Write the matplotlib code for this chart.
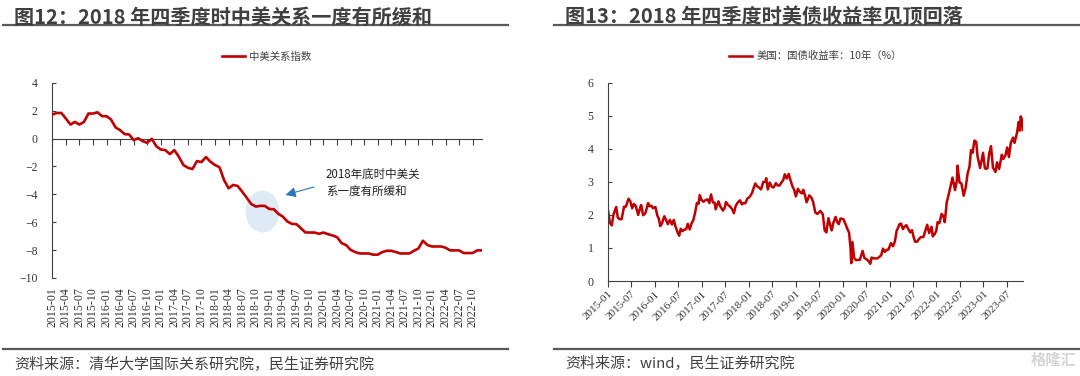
import matplotlib
matplotlib.use("Agg")
import matplotlib.pyplot as plt
import matplotlib.dates as mdates
from matplotlib.patches import Ellipse
from matplotlib.lines import Line2D
import pandas as pd
import numpy as np

# ---------------- data ----------------
# 中美关系指数 (monthly, 2015-01 .. 2022-12)
months = [d.strftime("%Y-%m") for d in pd.date_range("2015-01-01", "2022-12-01", freq="MS")]
relation_index = [
    1.71, 1.83, 1.83, 1.43, 1.00, 1.19, 1.00, 1.19, 1.79, 1.79, 1.88, 1.60,
    1.60, 1.36, 0.79, 0.60, 0.31, 0.29, -0.12, 0.02, -0.19, -0.31, -0.02, -0.55,
    -0.79, -0.83, -1.12, -0.83, -1.31, -1.90, -2.10, -2.19, -1.62, -1.69, -1.33, -1.67,
    -1.90, -2.07, -2.98, -3.57, -3.33, -3.40, -3.81, -4.24, -4.69, -4.88, -4.83, -4.83,
    -5.05, -5.07, -5.40, -5.60, -5.95, -6.12, -6.14, -6.43, -6.74, -6.74, -6.74, -6.83,
    -6.74, -6.86, -6.95, -7.07, -7.50, -7.64, -7.98, -8.14, -8.24, -8.24, -8.24, -8.33,
    -8.33, -8.14, -8.05, -8.05, -8.14, -8.24, -8.24, -8.24, -8.05, -7.88, -7.33, -7.64,
    -7.74, -7.74, -7.74, -7.83, -8.02, -8.02, -8.02, -8.21, -8.21, -8.21, -8.02, -8.02,
]
left_tick_labels = months[::3]

# 美国:国债收益率:10年 (%)
ust_dates = [
    "2015-01-02", "2015-01-15", "2015-01-30", "2015-02-13", "2015-03-06", "2015-03-18", "2015-04-01", "2015-04-17",
    "2015-05-06", "2015-05-20", "2015-06-10", "2015-06-24", "2015-07-08", "2015-07-22", "2015-08-05", "2015-08-24",
    "2015-09-09", "2015-09-16", "2015-10-02", "2015-10-20", "2015-11-09", "2015-11-20", "2015-12-04", "2015-12-18",
    "2016-01-05", "2016-01-20", "2016-02-02", "2016-02-11", "2016-02-25", "2016-03-14", "2016-03-30", "2016-04-11",
    "2016-04-27", "2016-05-13", "2016-05-27", "2016-06-10", "2016-06-27", "2016-07-08", "2016-07-20", "2016-08-03",
    "2016-08-16", "2016-09-01", "2016-09-13", "2016-09-28", "2016-10-13", "2016-10-26", "2016-11-09", "2016-11-23",
    "2016-12-07", "2016-12-15", "2016-12-30",
    "2017-01-13", "2017-01-31", "2017-02-14", "2017-02-28", "2017-03-13", "2017-03-27", "2017-04-10", "2017-04-18",
    "2017-05-10", "2017-05-24", "2017-06-14", "2017-06-28", "2017-07-07", "2017-07-26", "2017-08-09", "2017-08-25",
    "2017-09-07", "2017-09-21", "2017-10-06", "2017-10-25", "2017-11-08", "2017-11-21", "2017-12-05", "2017-12-20",
    "2018-01-09", "2018-01-26", "2018-02-09", "2018-02-21", "2018-03-08", "2018-03-22", "2018-04-06", "2018-04-24",
    "2018-05-09", "2018-05-17", "2018-05-29", "2018-06-13", "2018-06-29", "2018-07-13", "2018-07-31", "2018-08-14",
    "2018-08-29", "2018-09-14", "2018-09-27", "2018-10-08", "2018-10-24", "2018-11-08", "2018-11-21", "2018-12-06",
    "2018-12-19",
    "2019-01-03", "2019-01-18", "2019-02-01", "2019-02-19", "2019-03-01", "2019-03-15", "2019-03-27", "2019-04-17",
    "2019-05-03", "2019-05-17", "2019-06-03", "2019-06-20", "2019-07-12", "2019-07-31", "2019-08-15", "2019-08-28",
    "2019-09-13", "2019-09-27", "2019-10-08", "2019-10-22", "2019-11-08", "2019-11-22", "2019-12-03", "2019-12-16",
    "2020-01-08", "2020-01-23", "2020-02-07", "2020-02-21", "2020-03-03", "2020-03-09", "2020-03-18", "2020-03-31",
    "2020-04-15", "2020-04-30", "2020-05-15", "2020-06-05", "2020-06-19", "2020-07-08", "2020-07-24", "2020-08-04",
    "2020-08-14", "2020-08-26", "2020-09-15", "2020-09-30", "2020-10-14", "2020-10-28", "2020-11-11", "2020-11-25",
    "2020-12-09", "2020-12-23",
    "2021-01-12", "2021-01-28", "2021-02-12", "2021-02-25", "2021-03-04", "2021-03-18", "2021-03-31", "2021-04-15",
    "2021-04-29", "2021-05-12", "2021-05-26", "2021-06-11", "2021-06-25", "2021-07-08", "2021-07-19", "2021-08-04",
    "2021-08-18", "2021-09-03", "2021-09-21", "2021-10-04", "2021-10-21", "2021-11-05", "2021-11-24", "2021-12-03",
    "2021-12-17", "2021-12-31",
    "2022-01-10", "2022-01-24", "2022-02-10", "2022-02-24", "2022-03-07", "2022-03-22", "2022-04-06", "2022-04-20",
    "2022-05-06", "2022-05-26", "2022-06-09", "2022-06-14", "2022-06-30", "2022-07-14", "2022-08-01", "2022-08-16",
    "2022-09-01", "2022-09-15", "2022-09-27", "2022-10-10", "2022-10-24", "2022-11-07", "2022-11-17", "2022-12-01",
    "2022-12-07", "2022-12-30",
    "2023-01-12", "2023-01-19", "2023-02-02", "2023-02-16", "2023-03-02", "2023-03-17", "2023-04-06", "2023-04-18",
    "2023-05-04", "2023-05-25", "2023-06-05", "2023-06-22", "2023-07-06", "2023-07-19", "2023-08-03", "2023-08-21",
    "2023-09-01", "2023-09-21", "2023-10-03", "2023-10-11", "2023-10-19", "2023-10-30", "2023-11-03",
]
ust_yield = [
    2.12, 1.77, 1.68, 2.02, 2.24, 1.92, 1.87, 1.87, 2.25, 2.25, 2.49, 2.41, 2.20, 2.33, 2.27, 2.00,
    2.22, 2.30, 1.99, 2.06, 2.36, 2.26, 2.28, 2.20,
    2.24, 1.98, 1.87, 1.66, 1.74, 1.96, 1.83, 1.72, 1.85, 1.71, 1.85, 1.64, 1.46, 1.37, 1.58, 1.51,
    1.55, 1.57, 1.73, 1.56, 1.75, 1.84, 2.07, 2.36, 2.34, 2.60, 2.45,
    2.40, 2.45, 2.47, 2.36, 2.62, 2.38, 2.37, 2.17, 2.41, 2.26, 2.13, 2.22, 2.39, 2.29, 2.25, 2.17,
    2.05, 2.27, 2.37, 2.44, 2.32, 2.36, 2.35, 2.49,
    2.55, 2.66, 2.83, 2.95, 2.86, 2.83, 2.77, 3.00, 3.00, 3.11, 2.77, 2.98, 2.85, 2.83, 2.96, 2.89,
    2.89, 2.99, 3.06, 3.23, 3.10, 3.24, 3.06, 2.87, 2.77,
    2.56, 2.79, 2.70, 2.65, 2.76, 2.59, 2.38, 2.59, 2.53, 2.39, 2.07, 2.03, 2.12, 2.02, 1.53, 1.47,
    1.90, 1.69, 1.53, 1.77, 1.94, 1.77, 1.72, 1.89,
    1.87, 1.73, 1.58, 1.46, 1.00, 0.54, 1.18, 0.70, 0.63, 0.64, 0.64, 0.91, 0.70, 0.65, 0.59, 0.52,
    0.71, 0.69, 0.68, 0.69, 0.73, 0.78, 0.98, 0.88, 0.94, 0.95,
    1.15, 1.05, 1.20, 1.52, 1.57, 1.71, 1.74, 1.57, 1.65, 1.69, 1.58, 1.47, 1.54, 1.32, 1.19, 1.19,
    1.27, 1.33, 1.33, 1.49, 1.70, 1.45, 1.64, 1.35, 1.41, 1.52,
    1.78, 1.75, 2.03, 1.97, 1.78, 2.38, 2.61, 2.85, 3.13, 2.75, 3.04, 3.49, 2.98, 2.96, 2.58, 2.81,
    3.26, 3.45, 3.96, 3.88, 4.25, 4.21, 3.77, 3.53, 3.42, 3.88,
    3.44, 3.39, 3.41, 3.86, 4.08, 3.43, 3.30, 3.59, 3.39, 3.82, 3.69, 3.80, 4.04, 3.75, 4.18, 4.34,
    4.18, 4.49, 4.81, 4.55, 4.98, 4.88, 4.57,
]

# ---------------- style ----------------
RED = "#c00000"
DARK = "#404040"
CJK = ["Noto Sans CJK SC", "DejaVu Sans"]
SERIF = ["Liberation Serif", "DejaVu Serif"]

fig = plt.figure(figsize=(10.8, 3.76), dpi=100)

def fx(px):
    return px / 1080.0

def fy(py):
    return 1 - py / 376.0

# titles, rules, sources
fig.text(fx(14), fy(17), "图12：2018 年四季度时中美关系一度有所缓和", family=CJK,
         fontsize=14.5, fontweight="bold", color=DARK, va="center", ha="left")
fig.text(fx(565), fy(17), "图13：2018 年四季度时美债收益率见顶回落", family=CJK,
         fontsize=14.5, fontweight="bold", color=DARK, va="center", ha="left")
for x0, x1, yy in [(3, 508, 25), (554, 1080, 25), (3, 508, 349), (554, 1080, 349)]:
    fig.add_artist(Line2D([fx(x0), fx(x1)], [fy(yy), fy(yy)], color="#595959", lw=1.6,
                          transform=fig.transFigure))
fig.text(fx(14), fy(364), "资料来源：清华大学国际关系研究院，民生证券研究院", family=CJK,
         fontsize=10.8, color=DARK, va="center", ha="left")
fig.text(fx(565), fy(364), "资料来源：wind，民生证券研究院", family=CJK,
         fontsize=10.8, color=DARK, va="center", ha="left")
fig.text(fx(1076), fy(360), "格隆汇", family=CJK, fontsize=11, color="#d5d5d5",
         va="center", ha="right", fontweight="bold")

# ---------------- left chart ----------------
axL = fig.add_axes([fx(52.3), fy(278), fx(481.7 - 52.3), (278 - 82.7) / 376.0])
x_idx = np.arange(len(months))
axL.plot(x_idx, relation_index, color=RED, lw=1.9, label="中美关系指数", zorder=3)
axL.set_xlim(0, len(months) - 1)
axL.set_ylim(-10, 4)
axL.set_yticks(range(-10, 5, 2))
for s in ["top", "right"]:
    axL.spines[s].set_visible(False)
axL.spines["bottom"].set_position(("data", 0))
axL.spines["left"].set_color("#404040")
axL.spines["bottom"].set_color("#404040")
axL.set_xticks(x_idx[::3])
axL.tick_params(axis="x", direction="out", length=4, labelbottom=False, color="#404040")
axL.tick_params(axis="y", direction="in", length=3, labelsize=8.5, color="#404040", pad=10.5)
for lab in axL.get_yticklabels():
    lab.set_family(SERIF)
    lab.set_color("#333333")
sec = axL.secondary_xaxis("bottom")
sec.spines["bottom"].set_visible(False)
sec.set_xticks(x_idx[::3], left_tick_labels, rotation=90)
sec.tick_params(length=0, pad=6.5, labelsize=8.6)
for lab in sec.get_xticklabels():
    lab.set_family(SERIF)
    lab.set_color("#333333")

axL.add_patch(Ellipse((46.5, -5.24), 7.5, 3.0, facecolor="#deeaf6", edgecolor="none", zorder=1))
axL.annotate("", xy=(51, -4.1), xytext=(58.5, -3.42),
             arrowprops=dict(arrowstyle="-|>,head_length=0.6,head_width=0.3", color="#2e75b6", lw=0.8))
axL.text(60.5, -3.2, "2018年底时中美关\n系一度有所缓和", family=CJK, fontsize=8.3,
         color="#222222", va="center", ha="left", linespacing=1.45)
legL = axL.legend(loc="lower center", bbox_to_anchor=(0.5, 1.06), frameon=False,
                  prop={"family": CJK, "size": 7.5}, handlelength=2.2, handletextpad=0.4)
for t in legL.get_texts():
    t.set_color(DARK)

# ---------------- right chart ----------------
axR = fig.add_axes([fx(608), fy(281), fx(1023 - 608), (281 - 82.7) / 376.0])
dts = pd.to_datetime(ust_dates)
axR.plot(dts, ust_yield, color=RED, lw=1.8, label="美国：国债收益率：10年（%）")
axR.set_xlim(pd.Timestamp("2015-01-01"), pd.Timestamp("2023-11-06"))
axR.set_ylim(0, 6)
axR.set_yticks(range(0, 7))
for s in ["top", "right"]:
    axR.spines[s].set_visible(False)
axR.spines["left"].set_color("#404040")
axR.spines["bottom"].set_color("#404040")
axR.xaxis.set_major_locator(mdates.MonthLocator(bymonth=[1, 7]))
axR.xaxis.set_major_formatter(mdates.DateFormatter("%Y-%m"))
axR.tick_params(axis="x", direction="out", length=4, labelsize=8, color="#404040", pad=2)
axR.tick_params(axis="y", direction="in", length=3, labelsize=8.5, color="#404040", pad=10.5)
for lab in axR.get_xticklabels():
    lab.set_rotation(45)
    lab.set_ha("right")
    lab.set_rotation_mode("anchor")
for lab in axR.get_xticklabels() + axR.get_yticklabels():
    lab.set_family(SERIF)
    lab.set_color("#333333")
legR = axR.legend(loc="lower center", bbox_to_anchor=(0.5, 1.06), frameon=False,
                  prop={"family": CJK, "size": 7.5}, handlelength=2.2, handletextpad=0.4)
for t in legR.get_texts():
    t.set_color(DARK)

fig.savefig("out.png", dpi=100)
